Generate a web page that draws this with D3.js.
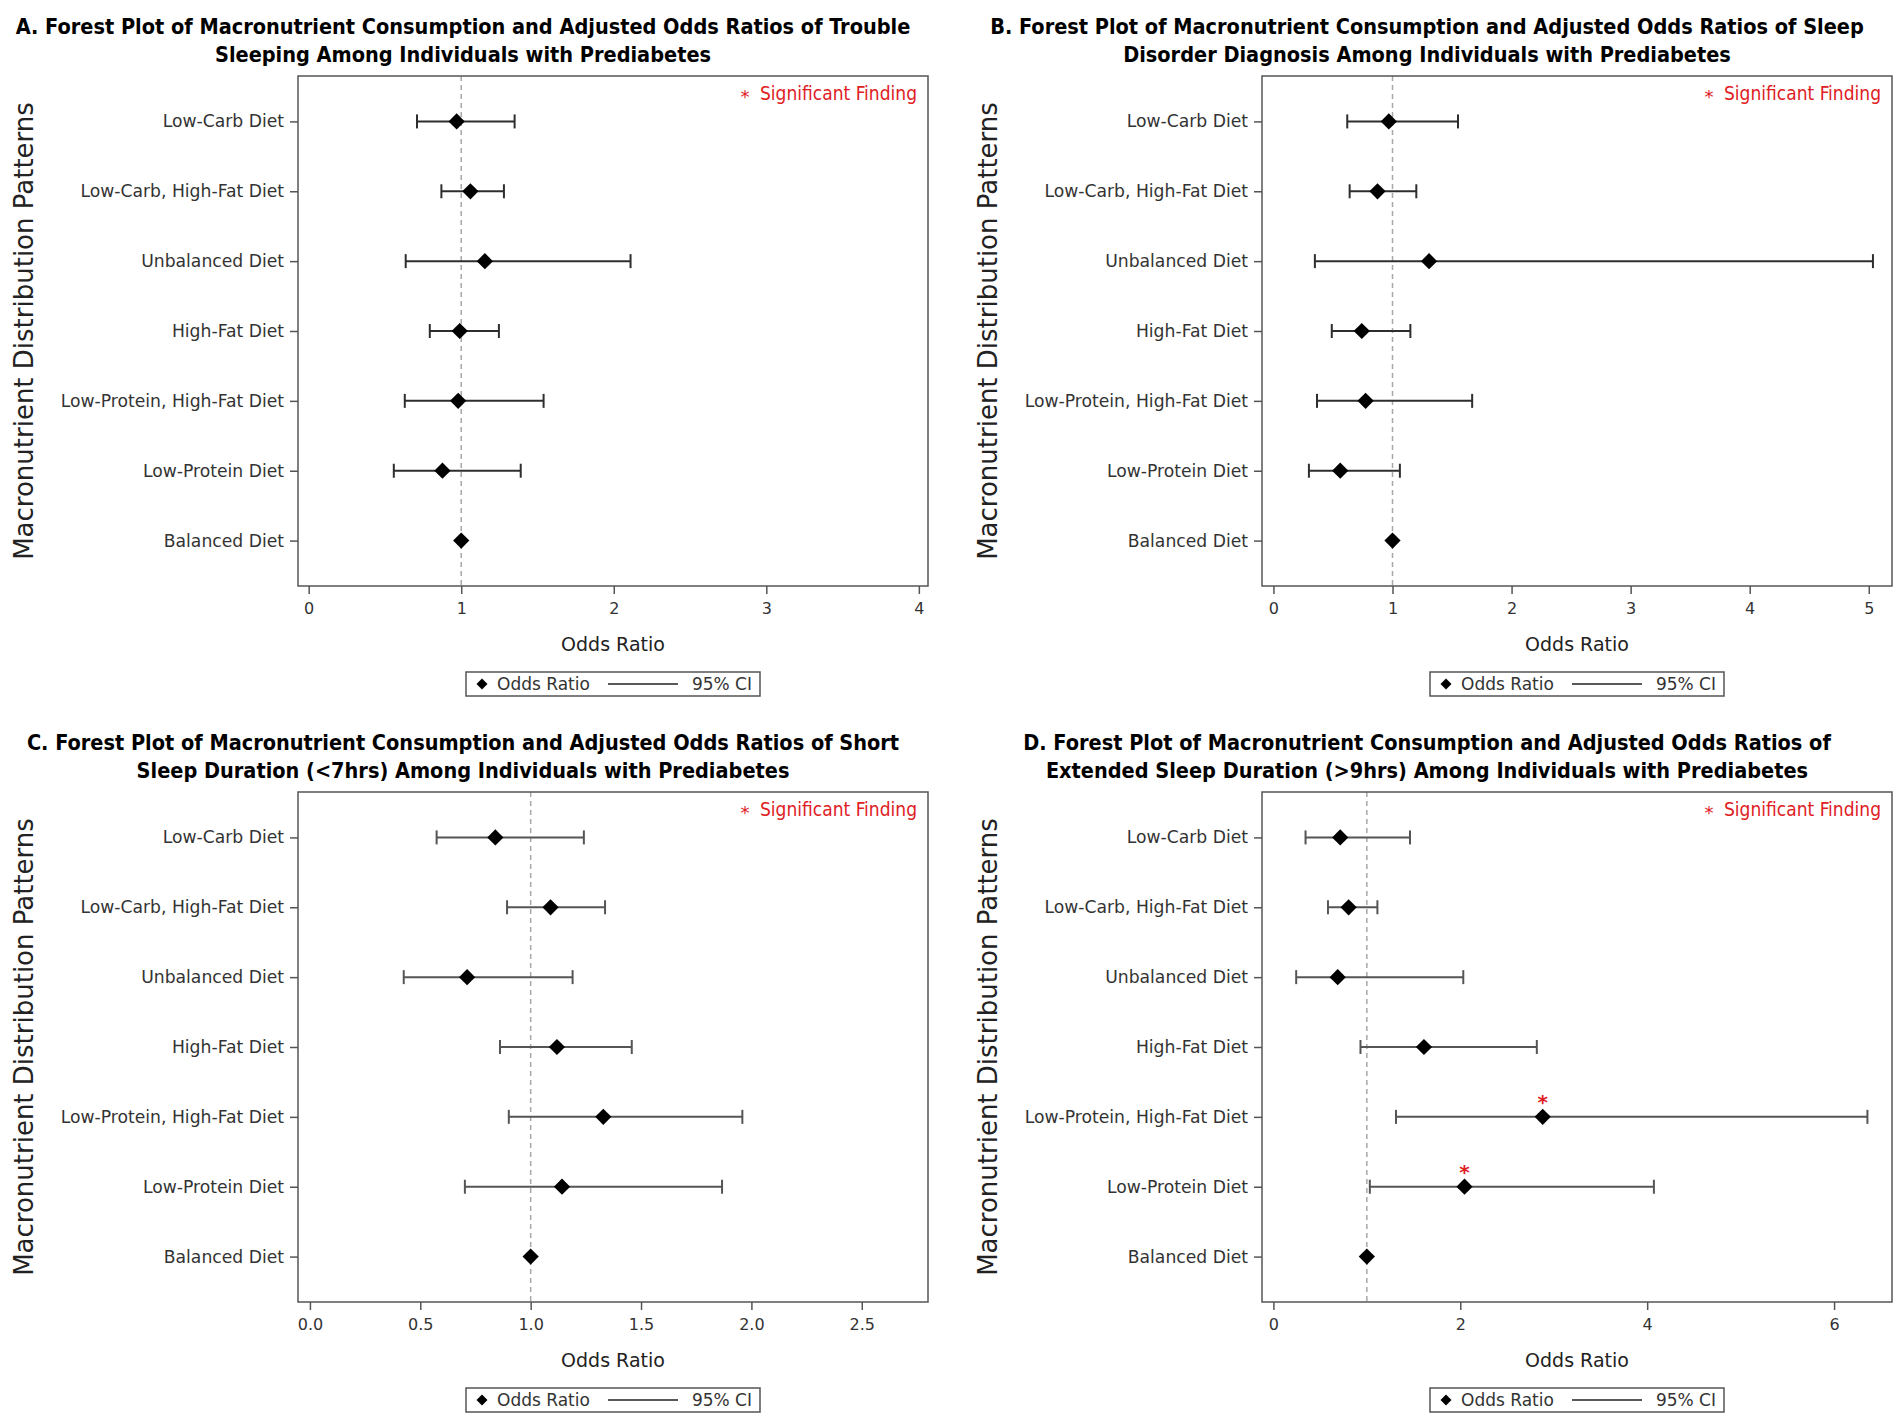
<!DOCTYPE html>
<html>
<head>
<meta charset="utf-8">
<script src="https://cdn.jsdelivr.net/npm/d3@7/dist/d3.min.js"></script>
<style>
  body { margin: 0; background: #fff; }
  svg { display: block; }
</style>
</head>
<body>
<div id="chart"></div>
<script>
// Diet groups, top to bottom
const categories = ['Low-Carb Diet', 'Low-Carb, High-Fat Diet', 'Unbalanced Diet', 'High-Fat Diet',
    'Low-Protein, High-Fat Diet', 'Low-Protein Diet', 'Balanced Diet'];

// A. Trouble sleeping
const oddsA = [0.97, 1.06, 1.155, 0.99, 0.98, 0.877, 1.0];
const lowerA = [0.71, 0.87, 0.636, 0.794, 0.63, 0.558, null];
const upperA = [1.35, 1.28, 2.11, 1.247, 1.54, 1.39, null];
const sigA = [false, false, false, false, false, false, false];

// B. Sleep disorder diagnosis
const oddsB = [0.969, 0.874, 1.307, 0.742, 0.774, 0.561, 1.0];
const lowerB = [0.62, 0.64, 0.348, 0.49, 0.366, 0.298, null];
const upperB = [1.55, 1.20, 5.035, 1.15, 1.669, 1.062, null];
const sigB = [false, false, false, false, false, false, false];

// C. Short sleep duration (<7hrs)
const oddsC = [0.84, 1.09, 0.712, 1.119, 1.329, 1.142, 1.0];
const lowerC = [0.574, 0.893, 0.425, 0.861, 0.901, 0.702, null];
const upperC = [1.241, 1.337, 1.19, 1.458, 1.959, 1.867, null];
const sigC = [false, false, false, false, false, false, false];

// D. Extended sleep duration (>9hrs)
const oddsD = [0.715, 0.805, 0.688, 1.611, 2.882, 2.045, 1.0];
const lowerD = [0.344, 0.584, 0.244, 0.932, 1.312, 1.032, null];
const upperD = [1.462, 1.113, 2.032, 2.819, 6.357, 4.072, null];
const sigD = [false, false, false, false, true, true, false];

const ticksA = [0, 1, 2, 3, 4];
const ticksB = [0, 1, 2, 3, 4, 5];
const ticksC = [0, 0.5, 1, 1.5, 2, 2.5];
const ticksD = [0, 2, 4, 6];

const titleA = ['A. Forest Plot of Macronutrient Consumption and Adjusted Odds Ratios of Trouble',
    'Sleeping Among Individuals with Prediabetes'];
const titleB = ['B. Forest Plot of Macronutrient Consumption and Adjusted Odds Ratios of Sleep',
    'Disorder Diagnosis Among Individuals with Prediabetes'];
const titleC = ['C. Forest Plot of Macronutrient Consumption and Adjusted Odds Ratios of Short',
    'Sleep Duration (<7hrs) Among Individuals with Prediabetes'];
const titleD = ['D. Forest Plot of Macronutrient Consumption and Adjusted Odds Ratios of',
    'Extended Sleep Duration (>9hrs) Among Individuals with Prediabetes'];

const panels = [
    { ox: 0, oy: 0, title: titleA, odds: oddsA, lower: lowerA, upper: upperA, sig: sigA,
      ticks: ticksA, domain: [-0.07, 4.06], fmt: d3.format('d'), ci: '#2e2e2e' },
    { ox: 964, oy: 0, title: titleB, odds: oddsB, lower: lowerB, upper: upperB, sig: sigB,
      ticks: ticksB, domain: [-0.096, 5.195], fmt: d3.format('d'), ci: '#2e2e2e' },
    { ox: 0, oy: 716, title: titleC, odds: oddsC, lower: lowerC, upper: upperC, sig: sigC,
      ticks: ticksC, domain: [-0.054, 2.80], fmt: d3.format('.1f'), ci: '#555' },
    { ox: 964, oy: 716, title: titleD, odds: oddsD, lower: lowerD, upper: upperD, sig: sigD,
      ticks: ticksD, domain: [-0.122, 6.62], fmt: d3.format('d'), ci: '#555' }
];

const sans = '"DejaVu Sans", Verdana, sans-serif';
const narrow = '"Liberation Sans Narrow", "Arial Narrow", "DejaVu Sans Condensed", sans-serif';

const W = 1902, H = 1424;
const frame = { left: 298, right: 928, top: 76, bottom: 586 };

const svg = d3.select('#chart')
    .append('svg')
    .attr('width', W)
    .attr('height', H);

svg.append('rect').attr('width', W).attr('height', H).attr('fill', '#fff');

function drawPanel(p) {
    const g = svg.append('g').attr('transform', `translate(${p.ox},${p.oy})`);

    const x = d3.scaleLinear().domain(p.domain).range([frame.left, frame.right]);
    const y = d3.scalePoint().domain(categories).range([frame.top, frame.bottom]).padding(0.65);

    const rows = categories.map((c, i) => ({
        cat: c, or: p.odds[i], lo: p.lower[i], hi: p.upper[i], sig: p.sig[i]
    }));

    // Title
    g.append('text')
        .attr('x', 463)
        .attr('y', 34)
        .attr('text-anchor', 'middle')
        .attr('font-family', narrow)
        .attr('font-weight', 'bold')
        .attr('font-size', '21.5px')
        .attr('fill', '#000')
        .selectAll('tspan')
        .data(p.title)
        .enter()
        .append('tspan')
        .attr('x', 463)
        .attr('dy', (d, i) => i === 0 ? 0 : 28)
        .text(d => d);

    // Reference line at OR = 1
    g.append('line')
        .attr('x1', x(1)).attr('x2', x(1))
        .attr('y1', frame.top).attr('y2', frame.bottom)
        .attr('stroke', '#a8a8a8')
        .attr('stroke-width', 1.5)
        .attr('stroke-dasharray', '5,4');

    // Frame
    g.append('rect')
        .attr('x', frame.left)
        .attr('y', frame.top)
        .attr('width', frame.right - frame.left)
        .attr('height', frame.bottom - frame.top)
        .attr('fill', 'none')
        .attr('stroke', '#555')
        .attr('stroke-width', 1.5);

    // Axes
    const xAxis = g.append('g')
        .attr('transform', `translate(0,${frame.bottom})`)
        .call(d3.axisBottom(x).tickValues(p.ticks).tickFormat(p.fmt).tickSize(8).tickPadding(9));
    const yAxis = g.append('g')
        .attr('transform', `translate(${frame.left},0)`)
        .call(d3.axisLeft(y).tickSize(8).tickPadding(6));

    [xAxis, yAxis].forEach(a => {
        a.select('.domain').remove();
        a.selectAll('line').attr('stroke', '#555').attr('stroke-width', 1.5);
        a.selectAll('text')
            .attr('fill', '#333')
            .attr('font-family', sans);
    });
    xAxis.selectAll('text').attr('font-size', '16px');
    yAxis.selectAll('text').attr('font-size', '17.2px');

    // CI bars
    const ci = g.selectAll('.ci')
        .data(rows.filter(d => d.lo != null))
        .enter()
        .append('g')
        .attr('class', 'ci')
        .attr('stroke', p.ci)
        .attr('stroke-width', 2);

    ci.append('line')
        .attr('x1', d => x(d.lo)).attr('x2', d => x(d.hi))
        .attr('y1', d => y(d.cat)).attr('y2', d => y(d.cat));
    ci.append('line')
        .attr('x1', d => x(d.lo)).attr('x2', d => x(d.lo))
        .attr('y1', d => y(d.cat) - 7).attr('y2', d => y(d.cat) + 7);
    ci.append('line')
        .attr('x1', d => x(d.hi)).attr('x2', d => x(d.hi))
        .attr('y1', d => y(d.cat) - 7).attr('y2', d => y(d.cat) + 7);

    // Odds ratio diamonds
    g.selectAll('.or')
        .data(rows)
        .enter()
        .append('path')
        .attr('class', 'or')
        .attr('d', d3.symbol(d3.symbolSquare, 132))
        .attr('transform', d => `translate(${x(d.or)},${y(d.cat)}) rotate(45)`)
        .attr('fill', '#000');

    // Significance stars
    g.selectAll('.sig')
        .data(rows.filter(d => d.sig))
        .enter()
        .append('text')
        .attr('class', 'sig')
        .attr('x', d => x(d.or))
        .attr('y', d => y(d.cat) - 8)
        .attr('text-anchor', 'middle')
        .attr('font-family', sans)
        .attr('font-weight', 'bold')
        .attr('font-size', '20px')
        .attr('fill', '#e0201f')
        .text('*');

    // Significant finding note
    g.append('text')
        .attr('x', 745)
        .attr('y', 103)
        .attr('text-anchor', 'middle')
        .attr('font-family', sans)
        .attr('font-size', '18px')
        .attr('fill', '#e0201f')
        .text('*');
    g.append('text')
        .attr('x', 917)
        .attr('y', 100)
        .attr('text-anchor', 'end')
        .attr('font-family', narrow)
        .attr('font-size', '19px')
        .attr('fill', '#e0201f')
        .text('Significant Finding');

    // Axis titles
    g.append('text')
        .attr('transform', `translate(33,${(frame.top + frame.bottom) / 2}) rotate(-90)`)
        .attr('text-anchor', 'middle')
        .attr('font-family', sans)
        .attr('font-size', '26px')
        .attr('fill', '#222')
        .text('Macronutrient Distribution Patterns');

    g.append('text')
        .attr('x', (frame.left + frame.right) / 2)
        .attr('y', 651)
        .attr('text-anchor', 'middle')
        .attr('font-family', sans)
        .attr('font-size', '19px')
        .attr('fill', '#222')
        .text('Odds Ratio');

    // Legend
    const lg = g.append('g').attr('transform', 'translate(0,684)');
    lg.append('rect')
        .attr('x', 466).attr('y', -12)
        .attr('width', 294).attr('height', 24)
        .attr('fill', '#fff')
        .attr('stroke', '#555')
        .attr('stroke-width', 1.5);
    lg.append('path')
        .attr('d', d3.symbol(d3.symbolSquare, 60))
        .attr('transform', 'translate(482,0) rotate(45)')
        .attr('fill', '#000');
    lg.append('text')
        .attr('x', 497).attr('y', 6)
        .attr('font-family', sans).attr('font-size', '17px').attr('fill', '#333')
        .text('Odds Ratio');
    lg.append('line')
        .attr('x1', 608).attr('x2', 678)
        .attr('stroke', '#222').attr('stroke-width', 1.5);
    lg.append('text')
        .attr('x', 752).attr('y', 6)
        .attr('text-anchor', 'end')
        .attr('font-family', sans).attr('font-size', '17px').attr('fill', '#333')
        .text('95% CI');
}

panels.forEach(drawPanel);
</script>
</body>
</html>
